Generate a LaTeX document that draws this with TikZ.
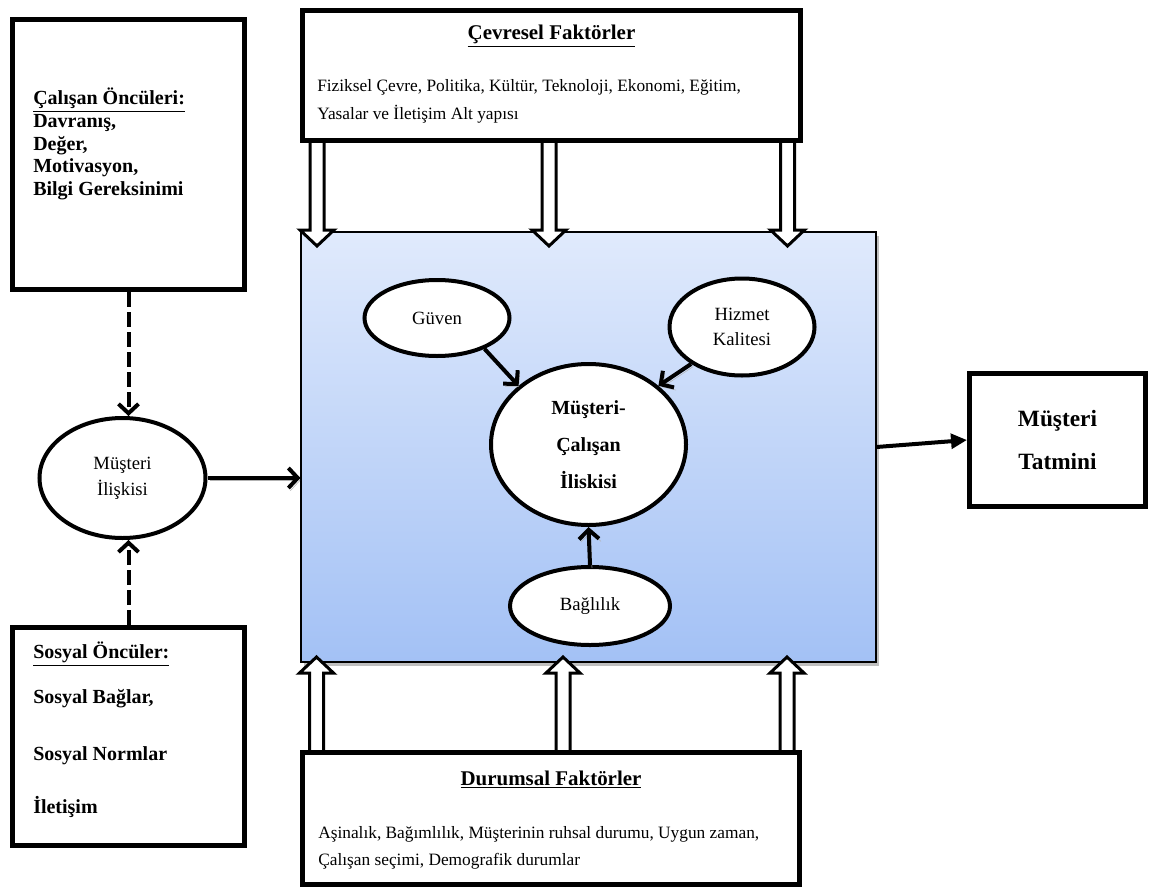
\documentclass[tikz,border=0pt]{standalone}
\usepackage{fontspec}
\setmainfont{Liberation Serif}
\usepackage{tikz}
\usetikzlibrary{positioning}
\usetikzlibrary{arrows.meta}
\usetikzlibrary{shapes.geometric}
\usetikzlibrary{shadows}

\definecolor{maviust}{RGB}{224,234,252}
\definecolor{mavialt}{RGB}{163,193,245}

% kalin ok: x, baslangic y, uc y, bas tabani y
\newcommand{\kalinok}[4]{%
  \draw[kalin] (#1-7,#2) -- (#1-7,#4) -- (#1-17,#4) -- (#1,#3)
    -- (#1+17,#4) -- (#1+7,#4) -- (#1+7,#2);}

\begin{document}
\begin{tikzpicture}[x=0.75pt,y=-0.75pt]
        \tikzstyle{kutu}=[draw, line width=3.75pt, fill=white, inner sep=0pt]
        \tikzstyle{elips}=[draw, ellipse, line width=3pt, fill=white,
            inner sep=0pt, align=center, font=\fontsize{14}{19.5}\selectfont]
        \tikzstyle{yazi}=[inner sep=0pt, align=left]
        \tikzstyle{kalin}=[draw, fill=white, line width=2.25pt, line join=miter]
        \tikzstyle{golge}=[preaction={draw=black!30,
            transform canvas={shift={(1.5pt,-2pt)}}}]
        \tikzstyle{ok}=[line width=3pt, golge,
            -{Straight Barb[length=7pt,width=15pt]}]
        \tikzstyle{kesik}=[line width=3pt, dash pattern=on 11pt off 4pt,
            -{Straight Barb[length=7pt,width=15pt]}]
        \useasboundingbox (0,0) rectangle (1151,888);

            % orta kutu
            \node[draw, line width=0.8pt, top color=maviust, bottom color=mavialt,
                drop shadow={shadow xshift=2pt, shadow yshift=-3pt},
                minimum width=431.25pt, minimum height=322.5pt] (mavi) at (588.5,447) {};

            \kalinok{317}{130}{246}{230}
            \kalinok{549}{130}{246}{230}
            \kalinok{787.5}{130}{246}{230}
            \kalinok{316.5}{760}{657}{673}
            \kalinok{563}{760}{657}{673}
            \kalinok{787}{760}{657}{673}

            % kutular
            \node[kutu, minimum width=174pt, minimum height=202.5pt] (calisan) at (128.5,154.5) {};
            \node[yazi, anchor=north west, font=\bfseries\fontsize{15}{17}\selectfont]
                (calisanyazi) at (33,88) {\underline{Çalışan Öncüleri:}\\Davranış,\\Değer,\\Motivasyon,\\Bilgi Gereksinimi};

            \node[kutu, minimum width=373.5pt, minimum height=97.5pt] (cevre) at (551.5,75.5) {};
            \node[inner sep=0pt, anchor=base, font=\bfseries\fontsize{15.7}{18}\selectfont]
                (cevrebaslik) at (551.5,40) {\underline{Çevresel Faktörler}};
            \node[yazi, anchor=north west, font=\fontsize{13}{21}\selectfont]
                (cevreyazi) at (317,79.5) {Fiziksel Çevre, Politika, Kültür, Teknoloji, Ekonomi, Eğitim,\\Yasalar ve İletişim Alt yapısı};

            \node[kutu, minimum width=372.75pt, minimum height=99pt] (durum) at (551,818.5) {};
            \node[inner sep=0pt, anchor=base, font=\bfseries\fontsize{15.7}{18}\selectfont]
                (durumbaslik) at (551,785) {\underline{Durumsal Faktörler}};
            \node[yazi, anchor=north west, font=\fontsize{13}{20.25}\selectfont]
                (durumyazi) at (318,826) {Aşinalık, Bağımlılık, Müşterinin ruhsal durumu, Uygun zaman,\\Çalışan seçimi, Demografik durumlar};

            \node[kutu, minimum width=174pt, minimum height=163.5pt] (sosyal) at (128.5,736.5) {};
            \node[yazi, anchor=north west, font=\bfseries\fontsize{15}{16.5}\selectfont]
                (sosyalyazi) at (33,642) {\underline{Sosyal Öncüler:}\\[17.25pt]Sosyal Bağlar,\\[26.25pt]Sosyal Normlar\\[23.25pt]İletişim};

            \node[kutu, minimum width=132pt, minimum height=99.75pt, align=center,
                font=\bfseries\fontsize{17.5}{32}\selectfont] (tatmin) at (1057.5,440) {Müşteri\\Tatmini};

            % elipsler
            \node[elips, minimum width=124.5pt, minimum height=90pt] (musteri) at (122.5,478) {Müşteri\\İlişkisi};
            \node[elips, minimum width=108.75pt, minimum height=57pt] (guven) at (437,318) {Güven};
            \node[elips, minimum width=108.75pt, minimum height=72.75pt,
                font=\fontsize{14}{18.75}\selectfont] (hizmet) at (742,327) {Hizmet\\Kalitesi};
            \node[elips, minimum width=146.25pt, minimum height=120.75pt,
                font=\bfseries\fontsize{15}{27.75}\selectfont] (ana) at (588.5,444.5) {Müşteri-\\Çalışan\\İliskisi};
            \node[elips, minimum width=120pt, minimum height=58.5pt] (baglilik) at (590,606) {Bağlılık};

            % baglantilar
            \draw[kesik] (calisan.south) -- (calisan.south |- musteri.north);
            \draw[kesik] (sosyal.north) -- (sosyal.north |- musteri.south);
            \draw[ok] (musteri.east) -- (musteri.east -| mavi.west);
            \draw[ok] (guven.-33) -- (ana.140);
            \draw[ok] (hizmet.-144) -- (ana.40);
            \draw[ok] (baglilik.north) -- (ana.south);
            \draw[line width=3pt, -{Triangle[length=12pt,width=11pt]}] (mavi.east) -- (tatmin.west);
        \end{tikzpicture}
\end{document}
